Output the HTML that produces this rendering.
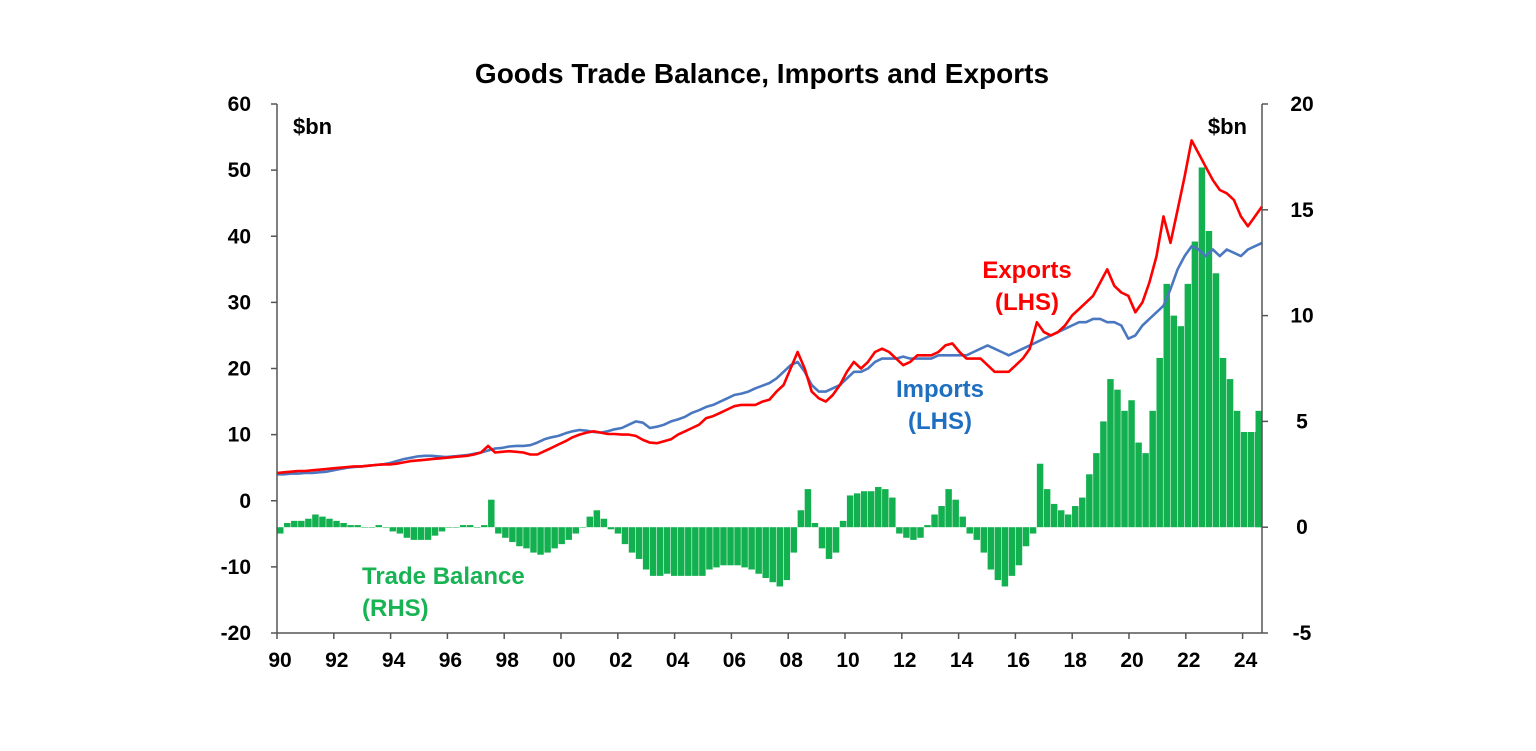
<!DOCTYPE html>
<html><head><meta charset="utf-8"><style>
body{margin:0;background:#fff;}
svg{display:block;font-family:"Liberation Sans",Arial,sans-serif;font-weight:bold;}
</style></head><body>
<svg id="chart" width="1536" height="751">
<text x="762" y="83" text-anchor="middle" font-size="28" fill="#000">Goods Trade Balance, Imports and Exports</text>
<g id="bars"></g>
<g id="lines"></g>
<g id="axes"></g>
<text x="293" y="134" font-size="22">$bn</text>
<text x="1247" y="134" font-size="22" text-anchor="end">$bn</text>
<text x="1027" y="278" font-size="24" fill="#f00" text-anchor="middle">Exports</text>
<text x="1027" y="310" font-size="24" fill="#f00" text-anchor="middle">(LHS)</text>
<text x="940" y="397" font-size="24" fill="#1f6fc0" text-anchor="middle">Imports</text>
<text x="940" y="429" font-size="24" fill="#1f6fc0" text-anchor="middle">(LHS)</text>
<text x="362" y="584" font-size="24" fill="#18b454">Trade Balance</text>
<text x="362" y="616" font-size="24" fill="#18b454">(RHS)</text>
</svg>
<script>
const exportsQ=[4.2,4.3,4.4,4.5,4.5,4.6,4.7,4.8,4.9,5.0,5.1,5.2,5.2,5.3,5.4,5.5,5.5,5.6,5.8,6.0,6.1,6.2,6.3,6.4,6.5,6.6,6.7,6.8,7.0,7.3,8.3,7.3,7.4,7.5,7.4,7.3,7.0,7.0,7.5,8.0,8.5,9.0,9.6,10.0,10.3,10.5,10.3,10.1,10.1,10.0,10.0,9.8,9.2,8.8,8.7,9.0,9.3,10.0,10.5,11.0,11.5,12.5,12.8,13.3,13.8,14.3,14.5,14.5,14.5,15.0,15.3,16.5,17.5,20.0,22.5,20.0,16.5,15.5,15.0,16.0,17.5,19.5,21.0,20.0,21.0,22.5,23.0,22.5,21.5,20.5,21.0,22.0,22.0,22.0,22.5,23.5,23.8,22.5,21.5,21.5,21.5,20.5,19.5,19.5,19.5,20.5,21.5,23.0,27.0,25.5,25.0,25.5,26.5,28.0,29.0,30.0,31.0,33.0,35.0,32.5,31.5,31.0,28.5,30.0,33.0,37.0,43.0,39.0,44.0,49.0,54.5,52.5,50.5,48.5,47.0,46.5,45.5,43.0,41.5,43.0,44.5];
const importsQ=[4.0,4.0,4.1,4.1,4.2,4.2,4.3,4.4,4.6,4.8,5.0,5.1,5.2,5.3,5.4,5.5,5.7,6.0,6.3,6.5,6.7,6.8,6.8,6.7,6.6,6.7,6.8,6.9,7.1,7.3,7.6,7.9,8.0,8.2,8.3,8.3,8.4,8.8,9.3,9.6,9.8,10.2,10.5,10.7,10.6,10.4,10.3,10.5,10.8,11.0,11.5,12.0,11.8,11.0,11.2,11.5,12.0,12.3,12.7,13.3,13.7,14.2,14.5,15.0,15.5,16.0,16.2,16.5,17.0,17.4,17.8,18.5,19.5,20.5,21.0,19.5,17.5,16.5,16.5,17.0,17.5,18.5,19.5,19.5,20.0,21.0,21.5,21.5,21.5,21.8,21.5,21.5,21.5,21.5,22.0,22.0,22.0,22.0,22.0,22.5,23.0,23.5,23.0,22.5,22.0,22.5,23.0,23.5,24.0,24.5,25.0,25.5,26.0,26.5,27.0,27.0,27.5,27.5,27.0,27.0,26.5,24.5,25.0,26.5,27.5,28.5,29.5,32.0,35.0,37.0,38.5,38.0,37.0,38.0,37.0,38.0,37.5,37.0,38.0,38.5,39.0];
const balanceQ=[-0.3,0.2,0.3,0.3,0.4,0.6,0.5,0.4,0.3,0.2,0.1,0.1,0.0,0.0,0.1,0.0,-0.2,-0.3,-0.5,-0.6,-0.6,-0.6,-0.4,-0.2,0.0,0.0,0.1,0.1,0.0,0.1,1.3,-0.3,-0.5,-0.7,-0.9,-1.0,-1.2,-1.3,-1.2,-1.0,-0.8,-0.6,-0.3,0.0,0.5,0.8,0.4,-0.1,-0.3,-0.8,-1.2,-1.5,-2.0,-2.3,-2.3,-2.2,-2.3,-2.3,-2.3,-2.3,-2.3,-2.0,-1.9,-1.8,-1.8,-1.8,-1.9,-2.0,-2.2,-2.4,-2.6,-2.8,-2.5,-1.2,0.8,1.8,0.2,-1.0,-1.5,-1.2,0.3,1.5,1.6,1.7,1.7,1.9,1.8,1.4,-0.3,-0.5,-0.6,-0.5,0.1,0.6,1.0,1.8,1.3,0.5,-0.3,-0.6,-1.2,-2.0,-2.5,-2.8,-2.3,-1.8,-0.9,-0.3,3.0,1.8,1.1,0.8,0.6,1.0,1.4,2.5,3.5,5.0,7.0,6.5,5.5,6.0,4.0,3.5,5.5,8.0,11.5,10.0,9.5,11.5,13.5,17.0,14.0,12.0,8.0,7.0,5.5,4.5,4.5,4.5,5.5];
const leftTicks=[60,50,40,30,20,10,0,-10,-20];
const rightTicks=[20,15,10,5,0,-5];
const yearLabels=["90","92","94","96","98","00","02","04","06","08","10","12","14","16","18","20","22","24"];

const NS="http://www.w3.org/2000/svg";
const X0=277,X1=1262,Y0=104,Y1=633;
function xs(t){return X0+(t-1990)/(2025.0-1990)*(X1-X0);}
function yl(v){return Y0+(60-v)/80*(Y1-Y0);}
function yr(v){return Y0+(20-v)/25*(Y1-Y0);}
function qt(i){return 1990+i*0.25;}
function mk(tag,attrs,parent){const e=document.createElementNS(NS,tag);for(const k in attrs)e.setAttribute(k,attrs[k]);parent.appendChild(e);return e;}

const bars=document.getElementById('bars');
const bw=(xs(1990.25)-xs(1990))*0.92;
balanceQ.forEach((v,i)=>{
  const x=Math.min(xs(qt(i)),X1-bw);
  const y0=yr(0),y=yr(v);
  const r=mk('rect',{x:x,y:Math.min(y,y0),width:bw,height:Math.max(Math.abs(y-y0),0.5),fill:'#12b04f'},bars);
  
  
});
const lines=document.getElementById('lines');
function line(arr,color,name){
  const d=arr.map((v,i)=>(i?'L':'M')+Math.min(xs(qt(i)),X1).toFixed(1)+','+yl(v).toFixed(1)).join('');
  const p=mk('path',{d:d,fill:'none',stroke:color,'stroke-width':2.6,'stroke-linejoin':'round'},lines);
  
  
}
line(importsQ,'#4a78c0','imports-line');
line(exportsQ,'#ff0000','exports-line');

const ax=document.getElementById('axes');
const c='#555';
mk('line',{x1:X0,y1:Y0,x2:X0,y2:Y1,stroke:c,'stroke-width':1.5},ax);
mk('line',{x1:X1,y1:Y0,x2:X1,y2:Y1,stroke:c,'stroke-width':1.5},ax);
mk('line',{x1:X0,y1:Y1,x2:X1,y2:Y1,stroke:c,'stroke-width':1.5},ax);
leftTicks.forEach(v=>{
  mk('line',{x1:X0-6,y1:yl(v),x2:X0,y2:yl(v),stroke:c,'stroke-width':1.5},ax);
  const t=mk('text',{x:X0-26,y:yl(v)+7,'font-size':21,'text-anchor':'end'},ax);t.textContent=v;
  
  
});
rightTicks.forEach(v=>{
  mk('line',{x1:X1,y1:yr(v),x2:X1+6,y2:yr(v),stroke:c,'stroke-width':1.5},ax);
  const t=mk('text',{x:X1+40,y:yr(v)+7,'font-size':21,'text-anchor':'middle'},ax);t.textContent=v;
  
  
});
yearLabels.forEach((s,i)=>{
  const yr2=1990+i*2;
  const x=X0+(yr2-1990)*28.4;
  mk('line',{x1:x,y1:Y1,x2:x,y2:Y1+6,stroke:c,'stroke-width':1.5},ax);
  const t=mk('text',{x:x+3,y:Y1+34,'font-size':21,'text-anchor':'middle'},ax);t.textContent=s;
  
  
});
</script>
</body></html>
